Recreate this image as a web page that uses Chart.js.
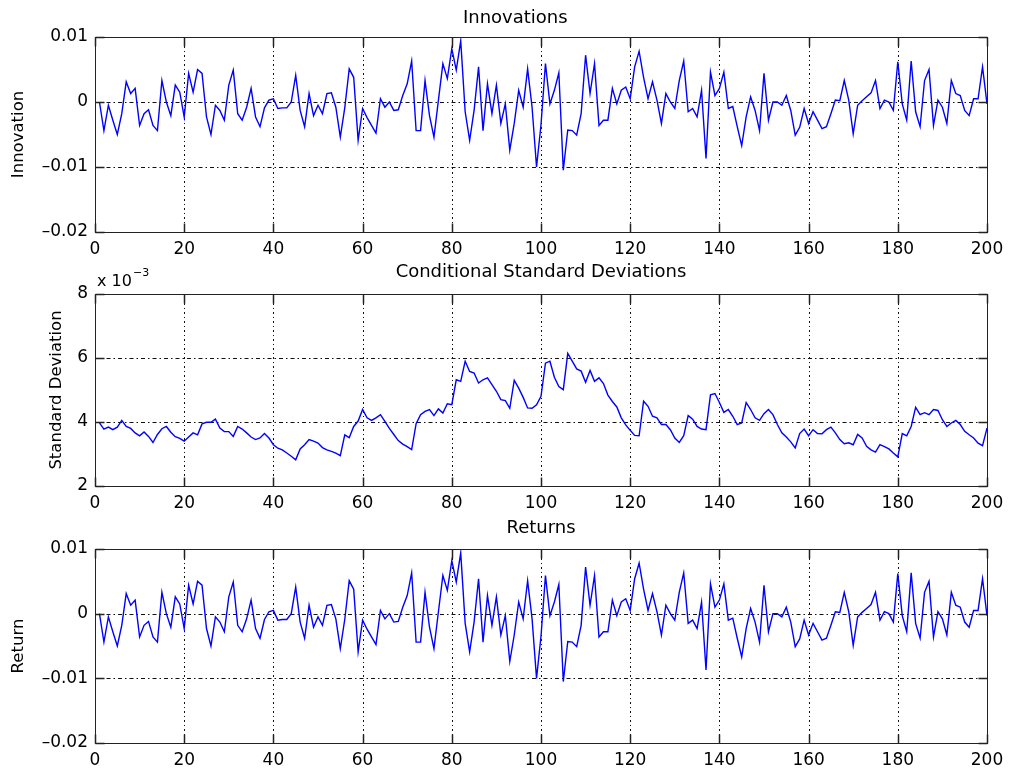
<!DOCTYPE html>
<html>
<head>
<meta charset="utf-8">
<script src="https://cdn.jsdelivr.net/npm/chart.js@4"></script>
<style>
  body { margin: 0; background: #fff; width: 1021px; height: 772px; overflow: hidden; position: relative; }
  canvas { position: absolute; left: 0; }
</style>
</head>
<body>
<canvas id="innov"></canvas>
<canvas id="sigma"></canvas>
<canvas id="ret"></canvas>
<script>
// values, x = 1..200
// innovations and returns are in units of 1e-3
const innovations = [
  0, -4.4, -0.5, -2.8, -5.0, -1.8, 3.1, 1.3, 2.1, -3.6,
  -1.8, -1.2, -3.6, -4.4, 3.3, 0, -2.1, 2.6, 1.5, -2.3,
  4.4, 1.5, 5.0, 4.4, -2.3, -5.0, -0.5, -1.3, -2.8, 2.6,
  4.9, -1.8, -2.8, -0.8, 2.1, -2.3, -3.8, -0.9, 0.3, 0.5,
  -1.0, -0.9, -0.9, 0, 4.1, -1.3, -3.8, 1.3, -2.1, -0.5,
  -1.8, 1.3, 1.4, -0.8, -5.4, -0.9, 5.1, 3.8, -5.9, -1.0,
  -2.4, -3.6, -4.8, 0.5, -0.8, 0, -1.3, -1.2, 1.0, 2.8,
  6.3, -4.4, -4.4, 3.3, -2.1, -5.4, 0.3, 5.9, 3.6, 8.2,
  4.9, 9.4, -1.5, -5.9, -1.3, 5.4, -4.4, 2.8, -1.8, 2.6,
  -3.3, -0.3, -7.4, -3.3, 1.8, -0.8, 5.1, -0.8, -10.0, -3.5,
  5.9, -0.3, 1.8, 4.5, -10.5, -4.3, -4.4, -5.1, -1.8, 7.2,
  1.3, 5.9, -3.6, -2.8, -2.8, 2.1, -0.3, 1.8, 2.3, 0.5,
  5.4, 7.8, 3.8, 0.5, 3.1, 0.3, -3.3, 1.3, 0, -1.0,
  3.3, 6.3, -1.5, -1.0, -2.3, 1.8, -8.7, 4.6, 1.0, 2.1,
  4.6, -1.0, -0.7, -3.8, -6.7, -2.3, 0.8, -1.3, -4.4, 4.4,
  -2.8, 0, 0, -0.5, 1.0, -1.3, -5.1, -3.9, -1.0, -3.3,
  -1.5, -2.8, -4.1, -3.8, -1.8, 0.3, 0.2, 3.3, 0.3, -4.9,
  -0.5, 0.2, 0.8, 1.4, 3.3, -1.0, 0.3, 0, -1.3, 6.2,
  -0.3, -2.8, 6.3, -1.5, -3.8, 3.3, 5.0, -3.6, 0.3, -0.8,
  -3.3, 3.3, 1.3, 1.0, -1.3, -2.1, 0.5, 0.5, 5.4, -0.3
];

// conditional standard deviations, units of 1e-3
const sigmas = [
  3.97, 3.78, 3.84, 3.76, 3.84, 4.05, 3.86, 3.80, 3.66, 3.57,
  3.69, 3.55, 3.36, 3.61, 3.79, 3.86, 3.68, 3.54, 3.49, 3.40,
  3.53, 3.66, 3.60, 3.94, 3.99, 3.99, 4.09, 3.81, 3.70, 3.70,
  3.55, 3.86, 3.78, 3.66, 3.53, 3.45, 3.50, 3.64, 3.50, 3.29,
  3.18, 3.13, 3.03, 2.93, 2.82, 3.16, 3.29, 3.45, 3.40, 3.34,
  3.20, 3.13, 3.08, 3.03, 2.95, 3.60, 3.51, 3.86, 4.03, 4.39,
  4.13, 4.05, 4.13, 4.23, 4.02, 3.80, 3.61, 3.42, 3.31, 3.23,
  3.14, 3.95, 4.23, 4.33, 4.39, 4.20, 4.41, 4.28, 4.57, 4.54,
  5.32, 5.27, 5.90, 5.58, 5.53, 5.22, 5.32, 5.38, 5.17, 4.96,
  4.70, 4.67, 4.43, 5.30, 5.06, 4.77, 4.44, 4.43, 4.54, 4.80,
  5.84, 5.90, 5.40, 5.11, 5.01, 6.14, 5.90, 5.66, 5.59, 5.24,
  5.61, 5.27, 5.38, 5.20, 4.84, 4.64, 4.47, 4.13, 3.91, 3.74,
  3.58, 3.57, 4.65, 4.49, 4.18, 4.13, 3.92, 3.92, 3.76, 3.50,
  3.36, 3.57, 4.20, 4.09, 3.86, 3.78, 3.76, 4.85, 4.89, 4.61,
  4.30, 4.39, 4.18, 3.92, 3.97, 4.61, 4.39, 4.13, 4.05, 4.26,
  4.39, 4.23, 3.92, 3.66, 3.53, 3.38, 3.19, 3.64, 3.78, 3.57,
  3.76, 3.64, 3.63, 3.76, 3.84, 3.66, 3.45, 3.32, 3.35, 3.29,
  3.61, 3.50, 3.24, 3.13, 3.06, 3.29, 3.23, 3.16, 3.03, 2.91,
  3.64, 3.57, 3.86, 4.46, 4.23, 4.29, 4.23, 4.39, 4.36, 4.07,
  3.86, 3.97, 4.05, 3.92, 3.71, 3.60, 3.50, 3.34, 3.26, 3.81
];

// returns, units of 1e-3
const returns = [
  0, -4.4, -0.5, -2.8, -5.0, -1.8, 3.1, 1.3, 2.1, -3.6,
  -1.8, -1.2, -3.6, -4.4, 3.3, 0, -2.1, 2.6, 1.5, -2.3,
  4.4, 1.5, 5.0, 4.4, -2.3, -5.0, -0.5, -1.3, -2.8, 2.6,
  4.9, -1.8, -2.8, -0.8, 2.1, -2.3, -3.8, -0.9, 0.3, 0.5,
  -1.0, -0.9, -0.9, 0, 4.1, -1.3, -3.8, 1.3, -2.1, -0.5,
  -1.8, 1.3, 1.4, -0.8, -5.4, -0.9, 5.1, 3.8, -5.9, -1.0,
  -2.4, -3.6, -4.8, 0.5, -0.8, 0, -1.3, -1.2, 1.0, 2.8,
  6.3, -4.4, -4.4, 3.3, -2.1, -5.4, 0.3, 5.9, 3.6, 8.2,
  4.9, 9.4, -1.5, -5.9, -1.3, 5.4, -4.4, 2.8, -1.8, 2.6,
  -3.3, -0.3, -7.4, -3.3, 1.8, -0.8, 5.1, -0.8, -10.0, -3.5,
  5.9, -0.3, 1.8, 4.5, -10.5, -4.3, -4.4, -5.1, -1.8, 7.2,
  1.3, 5.9, -3.6, -2.8, -2.8, 2.1, -0.3, 1.8, 2.3, 0.5,
  5.4, 7.8, 3.8, 0.5, 3.1, 0.3, -3.3, 1.3, 0, -1.0,
  3.3, 6.3, -1.5, -1.0, -2.3, 1.8, -8.7, 4.6, 1.0, 2.1,
  4.6, -1.0, -0.7, -3.8, -6.7, -2.3, 0.8, -1.3, -4.4, 4.4,
  -2.8, 0, 0, -0.5, 1.0, -1.3, -5.1, -3.9, -1.0, -3.3,
  -1.5, -2.8, -4.1, -3.8, -1.8, 0.3, 0.2, 3.3, 0.3, -4.9,
  -0.5, 0.2, 0.8, 1.4, 3.3, -1.0, 0.3, 0, -1.3, 6.2,
  -0.3, -2.8, 6.3, -1.5, -3.8, 3.3, 5.0, -3.6, 0.3, -0.8,
  -3.3, 3.3, 1.3, 1.0, -1.3, -2.1, 0.5, 0.5, 5.4, -0.3
];

const xTicks = [0, 20, 40, 60, 80, 100, 120, 140, 160, 180, 200];
const smallTicks = [-20, -10, 0, 10];
const smallTickLabels = ['\u20130.02', '\u20130.01', '0', '0.01'];
const sigmaTicks = [2, 4, 6, 8];
const sigmaTickLabels = ['2', '4', '6', '8'];

const FONT = 'DejaVu Sans';
const HEAD = 40; // canvas top to axes top

// MATLAB-like box, inward ticks and dash-dot grid
const matlabAxes = {
  id: 'matlabAxes',
  beforeDatasetsDraw(chart) {
    const ctx = chart.ctx, a = chart.chartArea;
    const xs = chart.scales.x, ys = chart.scales.y;
    ctx.save();
    ctx.strokeStyle = '#111';
    ctx.lineWidth = 1;
    ctx.setLineDash([2, 3, 1, 3]);
    xTicks.forEach(v => {
      const px = Math.round(xs.getPixelForValue(v)) + 0.5;
      ctx.beginPath(); ctx.moveTo(px, a.top); ctx.lineTo(px, a.bottom); ctx.stroke();
    });
    ctx.setLineDash([4, 3, 1.5, 3]);
    chart.options.plugins.matlabAxes.yTicks.forEach(v => {
      const py = Math.round(ys.getPixelForValue(v)) + 0.5;
      ctx.beginPath(); ctx.moveTo(a.left, py); ctx.lineTo(a.right, py); ctx.stroke();
    });
    ctx.restore();
  },
  afterDraw(chart, args, opts) {
    const ctx = chart.ctx, a = chart.chartArea;
    const xs = chart.scales.x, ys = chart.scales.y;
    const L = Math.round(a.left) + 0.5, R = Math.round(a.right) + 0.5;
    const T = Math.round(a.top) + 0.5, B = Math.round(a.bottom) + 0.5;
    ctx.save();
    ctx.strokeStyle = '#222';
    ctx.lineWidth = 1;
    ctx.strokeRect(L, T, R - L, B - T);
    ctx.lineWidth = 1.5;
    const tl = 9;
    xTicks.forEach(v => {
      const px = Math.round(xs.getPixelForValue(v)) + 0.5;
      ctx.beginPath();
      ctx.moveTo(px, B); ctx.lineTo(px, B - tl);
      ctx.moveTo(px, T); ctx.lineTo(px, T + tl);
      ctx.stroke();
    });
    opts.yTicks.forEach(v => {
      const py = Math.round(ys.getPixelForValue(v)) + 0.5;
      ctx.beginPath();
      ctx.moveTo(L, py); ctx.lineTo(L + tl, py);
      ctx.moveTo(R, py); ctx.lineTo(R - tl, py);
      ctx.stroke();
    });
    if (opts.exponent) {
      ctx.fillStyle = '#000';
      ctx.textBaseline = 'alphabetic';
      ctx.font = '16px "' + FONT + '"';
      ctx.fillText('x 10', 97, a.top - 8);
      const w = ctx.measureText('x 10').width;
      ctx.font = '11px "' + FONT + '"';
      ctx.fillText('\u22123', 97 + w + 1, a.top - 18);
    }
    ctx.restore();
  }
};

function makePlot(id, axesTop, axesHeight, titlePad, title, yTitle, yTitlePad,
                  values, yMin, yMax, yTicks, yLabels, exponent) {
  const cv = document.getElementById(id);
  cv.width = 1021;
  cv.height = HEAD + axesHeight + 30;
  cv.style.top = (axesTop - HEAD) + 'px';
  const points = values.map((v, i) => ({ x: i + 1, y: v }));
  return new Chart(cv, {
    type: 'line',
    data: {
      datasets: [{
        data: points,
        borderColor: '#0000ff',
        borderWidth: 1.4,
        pointRadius: 0,
        fill: false,
        tension: 0
      }]
    },
    options: {
      responsive: false,
      animation: false,
      layout: { padding: { top: titlePad, right: 34, left: 0, bottom: 0 } },
      plugins: {
        legend: { display: false },
        tooltip: { enabled: false },
        title: {
          display: true,
          fullSize: false,
          text: title,
          color: '#000',
          font: { family: FONT, size: 18, weight: 'normal', lineHeight: 1.2 },
          padding: { top: 0, bottom: HEAD - 21.6 - titlePad }
        },
        matlabAxes: { yTicks: yTicks, exponent: exponent }
      },
      scales: {
        x: {
          type: 'linear',
          min: 0, max: 200,
          afterFit: s => { s.height = 30; },
          afterBuildTicks: s => { s.ticks = xTicks.map(v => ({ value: v })); },
          grid: { display: false, drawTicks: false },
          border: { display: false },
          ticks: {
            color: '#000', padding: 7, maxRotation: 0, autoSkip: false,
            font: { family: FONT, size: 17 },
            callback: v => String(v)
          }
        },
        y: {
          min: yMin, max: yMax,
          afterFit: s => { s.width = 95; },
          afterBuildTicks: s => { s.ticks = yTicks.map(v => ({ value: v })); },
          grid: { display: false, drawTicks: false },
          border: { display: false },
          ticks: {
            color: '#000', padding: 7, autoSkip: false,
            font: { family: FONT, size: 17 },
            callback: v => yLabels[yTicks.indexOf(v)]
          },
          title: {
            display: true, text: yTitle, color: '#000',
            font: { family: FONT, size: 16.5, lineHeight: 1.2 },
            padding: { top: yTitlePad, bottom: 0 }
          }
        }
      }
    },
    plugins: [matlabAxes]
  });
}

// trailing spaces push the first title a little left of centre, as in the original
makePlot('innov', 37, 195, 11, 'Innovations         ', 'Innovation', 9,
  innovations, -20, 10, smallTicks, smallTickLabels, false);
makePlot('sigma', 294, 192, 8, 'Conditional Standard Deviations', 'Standard Deviation', 47,
  sigmas, 2, 8, sigmaTicks, sigmaTickLabels, true);
makePlot('ret', 549, 194, 9, 'Returns', 'Return', 9,
  returns, -20, 10, smallTicks, smallTickLabels, false);
</script>
</body>
</html>
